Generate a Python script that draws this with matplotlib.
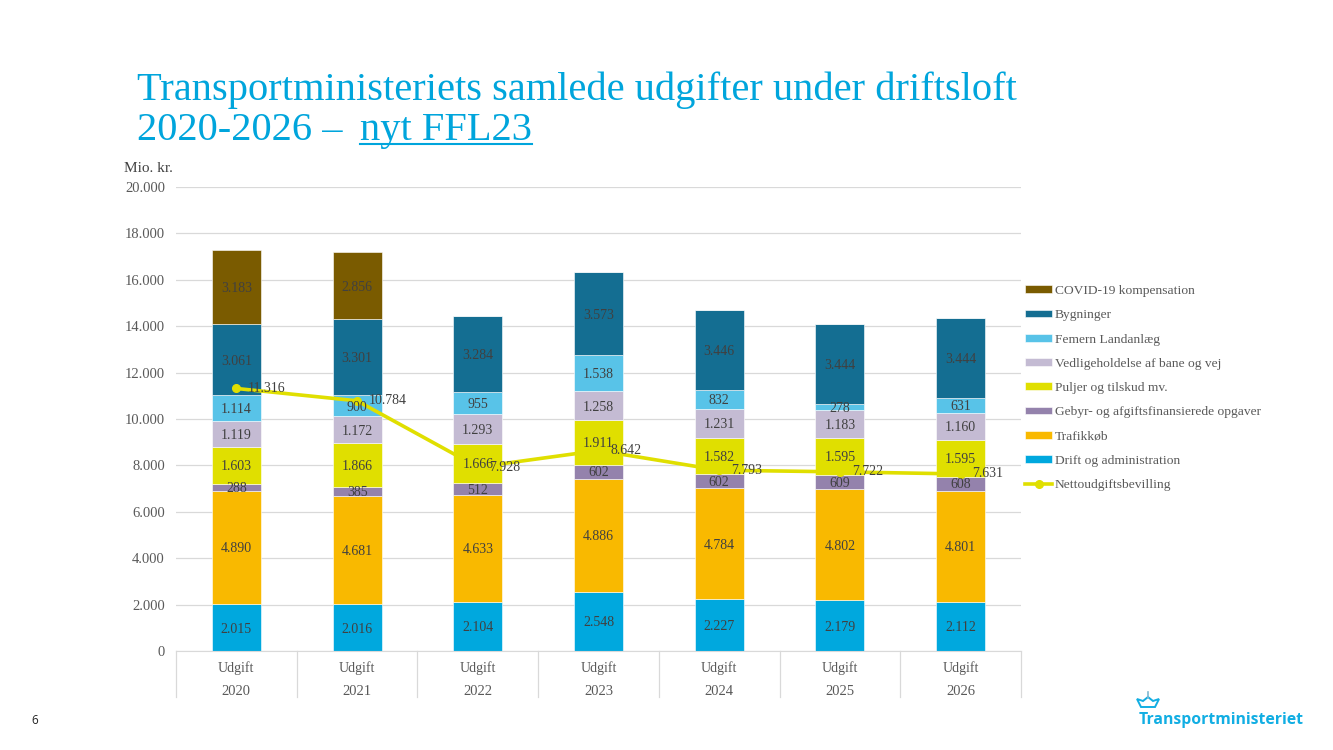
import matplotlib
matplotlib.use("Agg")
import matplotlib.pyplot as plt
from matplotlib.lines import Line2D
from matplotlib.patches import Polygon
import numpy as np

plt.rcParams['font.family'] = ['Liberation Serif', 'DejaVu Serif']

years = ['2020', '2021', '2022', '2023', '2024', '2025', '2026']
sub_label = 'Udgift'
drift = [2015, 2016, 2104, 2548, 2227, 2179, 2112]
trafik = [4890, 4681, 4633, 4886, 4784, 4802, 4801]
gebyr = [288, 385, 512, 602, 602, 609, 608]
puljer = [1603, 1866, 1666, 1911, 1582, 1595, 1595]
vedlige = [1119, 1172, 1293, 1258, 1231, 1183, 1160]
femern = [1114, 900, 955, 1538, 832, 278, 631]
bygninger = [3061, 3301, 3284, 3573, 3446, 3444, 3444]
covid = [3183, 2856, 0, 0, 0, 0, 0]
netto = [11316, 10784, 7928, 8642, 7793, 7722, 7631]
yticks = [0, 2000, 4000, 6000, 8000, 10000, 12000, 14000, 16000, 18000, 20000]

series = [
    ('Drift og administration', drift, '#00A8DE'),
    ('Trafikkøb', trafik, '#F9B900'),
    ('Gebyr- og afgiftsfinansierede opgaver', gebyr, '#9482AC'),
    ('Puljer og tilskud mv.', puljer, '#E0DF00'),
    ('Vedligeholdelse af bane og vej', vedlige, '#C4BBD3'),
    ('Femern Landanlæg', femern, '#58C3E8'),
    ('Bygninger', bygninger, '#146E92'),
    ('COVID-19 kompensation', covid, '#7A5B00'),
]

def fmt(v):
    return f'{v:,}'.replace(',', '.')

W, H = 1333, 750
fig = plt.figure(figsize=(W / 100, H / 100), dpi=100, facecolor='white')
ax = fig.add_axes([176 / W, 1 - 651 / H, 845 / W, 464 / H])
x = np.arange(len(years))
txt = '#404040'
grey = '#595959'

bottom = np.zeros(len(years))
handles = []
for name, vals, col in series:
    vals = np.array(vals)
    b = ax.bar(x, vals, 0.405, bottom=bottom, color=col, label=name, zorder=2,
               edgecolor='white', linewidth=0.4)
    handles.append(b)
    for xi, v, bo in zip(x, vals, bottom):
        if v > 0:
            ax.annotate(fmt(int(v)), (xi, bo + v / 2), xytext=(0, -1), textcoords='offset points',
                        ha='center', va='center', fontsize=10, color=txt, zorder=5)
    bottom = bottom + vals

line, = ax.plot(x, netto, color='#E0DF00', lw=2.6, marker='o', ms=5.5, zorder=4,
                label='Nettoudgiftsbevilling')
for xi, v in zip(x, netto):
    ax.annotate(fmt(v), (xi, v), xytext=(8.5, 0), textcoords='offset points',
                ha='left', va='center', fontsize=10, color=txt, zorder=5)

ax.set_xlim(-0.5, 6.5)
ax.set_ylim(0, 20000)
ax.set_yticks(yticks)
ax.set_yticklabels([fmt(t) for t in yticks], fontsize=10.5, color=grey)
ax.yaxis.grid(True, color='#D9D9D9', lw=0.9, zorder=0)
ax.set_axisbelow(True)
ax.tick_params(axis='y', length=0, pad=8)
ax.tick_params(axis='x', length=0, pad=7)
ax.set_xticks(x)
ax.set_xticklabels([sub_label] * len(x), fontsize=10, color=grey)
for s in ('top', 'right', 'left'):
    ax.spines[s].set_visible(False)
ax.spines['bottom'].set_color('#D9D9D9')

trans = ax.get_xaxis_transform()
for edge in np.arange(-0.5, 7, 1):
    ax.plot([edge, edge], [0, -0.0985], transform=trans, color='#D9D9D9', lw=0.9,
            clip_on=False, zorder=1)
for xi, y in zip(x, years):
    ax.text(xi, -0.0865, y, transform=trans, ha='center', va='center',
            fontsize=10.5, color=grey)

leg_handles = handles[::-1] + [line]
leg_labels = [s[0] for s in series[::-1]] + [line.get_label()]
fig.legend(leg_handles, leg_labels, loc='upper left', bbox_to_anchor=(1021 / W, 1 - 281 / H),
           frameon=False, fontsize=9.7, labelspacing=0.91, handlelength=2.0,
           handleheight=0.5, handletextpad=0.22, labelcolor=grey, borderpad=0.3, borderaxespad=0)

fig.text(124 / W, 1 - 168 / H, 'Mio. kr.', fontsize=11, color=txt, va='center', ha='left')

title_col = '#00A5DC'
fig.text(137 / W, 1 - 100 / H, 'Transportministeriets samlede udgifter under driftsloft',
         fontsize=29.2, color=title_col, ha='left', va='baseline')
fig.text(137 / W, 1 - 140 / H, '2020-2026 – ', fontsize=29.2, color=title_col,
         ha='left', va='baseline')
fig.canvas.draw()
r = fig.canvas.get_renderer()
t2 = fig.text(360 / W, 1 - 140 / H, 'nyt FFL23', fontsize=29.2, color=title_col,
              ha='left', va='baseline')
e2 = t2.get_window_extent(r)
fig.add_artist(Line2D([e2.x0 / W, e2.x1 / W], [1 - 144 / H] * 2, color=title_col, lw=1.5))

fig.text(35 / W, 1 - 720 / H, '6', fontsize=8.5, family=['Open Sans'], color='#222222',
         ha='center', va='center')

logo_col = '#12AEE3'
fig.text(1139 / W, 1 - 720 / H, 'Transportministeriet', fontsize=11.3, family=['Open Sans'],
         fontweight='bold', color=logo_col, ha='left', va='center')
px = lambda a, b: (a / W, 1 - b / H)
fig.add_artist(Polygon([px(1137, 699), px(1141, 707), px(1155, 707), px(1159, 699), px(1153, 701),
                        px(1148, 697), px(1143, 701)],
                       closed=True, transform=fig.transFigure, fc='white', ec=logo_col, lw=1.4))
fig.add_artist(Line2D([1148 / W] * 2, [1 - 692 / H, 1 - 698 / H], color='#7FB8D0', lw=1.2))

fig.savefig('out.png', dpi=100, facecolor='white')
